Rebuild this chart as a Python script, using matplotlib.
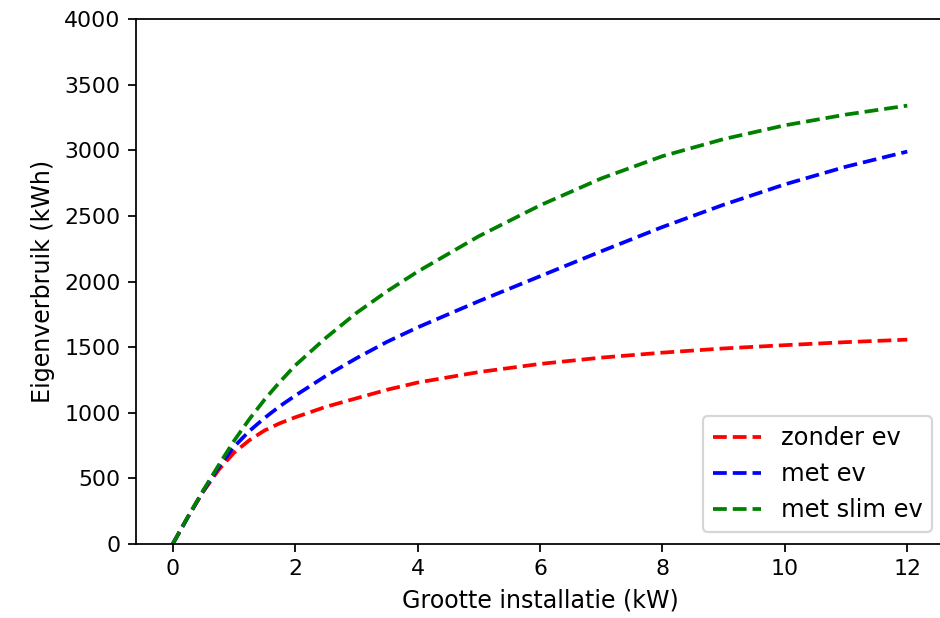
import numpy as np
import matplotlib.pyplot as plt

# ============================================================
# DATA
# ============================================================
size_kw = [0, 0.25, 0.5, 0.75, 1, 1.25, 1.5, 1.75, 2, 2.5, 3, 3.5, 4,
           5, 6, 7, 8, 9, 10, 11, 12]

zonder_ev = [0, 207, 400, 565, 695, 790, 865, 920, 965, 1045, 1110, 1175, 1230,
             1310, 1372, 1420, 1458, 1490, 1515, 1538, 1557]
met_ev = [0, 207, 405, 585, 740, 860, 960, 1050, 1130, 1280, 1415, 1540, 1650,
          1850, 2040, 2230, 2415, 2585, 2740, 2875, 2990]
met_slim_ev = [0, 210, 410, 600, 785, 950, 1100, 1235, 1360, 1570, 1760, 1925, 2075,
               2345, 2580, 2785, 2955, 3085, 3190, 3272, 3340]

# ============================================================
# PLOT
# ============================================================
DPI = 158
fig = plt.figure(figsize=(940 / DPI, 618 / DPI), dpi=DPI)
ax = fig.add_axes([136 / 940, 74 / 618, 808 / 940, 525 / 618])

ax.plot(size_kw, zonder_ev, "r--", lw=1.7, label="zonder ev")
ax.plot(size_kw, met_ev, "b--", lw=1.7, label="met ev")
ax.plot(size_kw, met_slim_ev, "g--", lw=1.7, label="met slim ev")

ax.set_xlim(-0.6, 12.6)
ax.set_ylim(0, 4000)
ax.set_xticks([0, 2, 4, 6, 8, 10, 12])
ax.set_yticks(np.arange(0, 4001, 500))
# right spine sits just outside the cropped figure in the reference
ax.spines["right"].set_visible(False)

ax.set_xlabel("Grootte installatie (kW)", fontsize=10.8)
ax.set_ylabel("Eigenverbruik (kWh)", fontsize=10.8)
ax.legend(loc="lower right", fontsize=11)

fig.savefig("out.png", dpi=DPI)
